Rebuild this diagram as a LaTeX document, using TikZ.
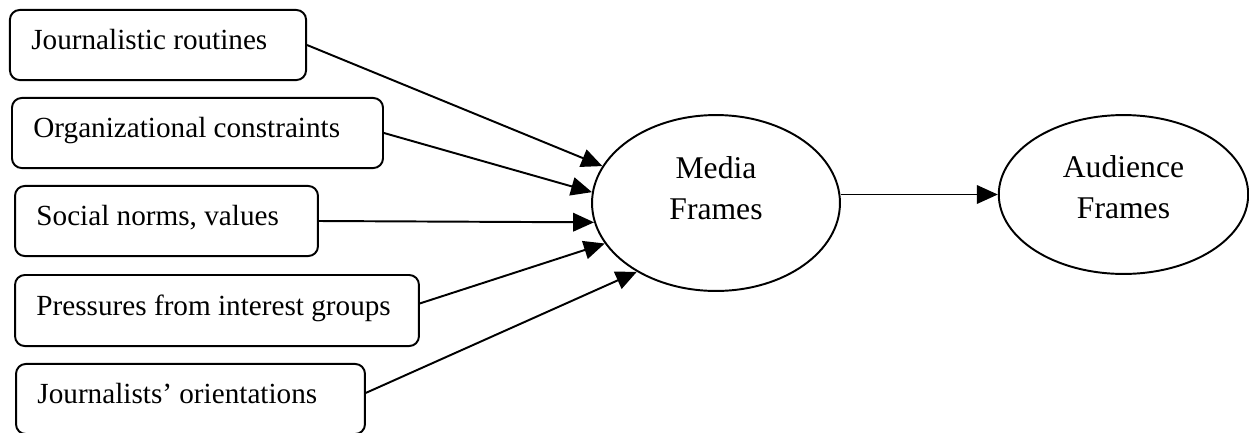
\documentclass[tikz,border=0pt]{standalone}
\usepackage{fontspec}
\setmainfont{Liberation Serif}
\usetikzlibrary{shapes.geometric,arrows.meta}
\tikzset{
  srcbox/.style={draw, rounded corners=4pt, line width=0.8pt, minimum height=28.8pt, inner sep=0pt},
  srctext/.style={anchor=west, xshift=9pt, inner sep=0pt, text height=0.7em, text depth=0.3em, font=\fontsize{12}{14}\selectfont},
  frame/.style={draw, ellipse, line width=0.8pt, inner sep=0pt},
  frametext/.style={align=center, inner sep=0pt, font=\fontsize{13}{16.9}\selectfont},
  arr/.style={-{Triangle[length=8.6pt,width=7.6pt]}, line width=0.8pt}
}
\begin{document}
\begin{tikzpicture}[x=0.411pt,y=0.411pt,yscale=-1,xscale=1]
\useasboundingbox (0,0) rectangle (1249,432);
% influences on the media
\node [srcbox, minimum width=121.7pt] (jr) at (158,45) {};
\node [srctext] at (jr.west) {Journalistic routines};
\node [srcbox, minimum width=152.5pt] (oc) at (197.5,133) {};
\node [srctext] at (oc.west) {Organizational constraints};
\node [srcbox, minimum width=124.5pt] (sn) at (166.5,221) {};
\node [srctext] at (sn.west) {Social norms, values};
\node [srcbox, minimum width=166pt, minimum height=29.2pt] (pi) at (217,310.5) {};
\node [srctext] at (pi.west) {Pressures from interest groups};
\node [srcbox, minimum width=143.4pt] (jo) at (190.5,399) {};
\node [srctext] at (jo.west) {Journalists’ orientations};
% frames
\node [frame, minimum width=101.9pt, minimum height=72.3pt,
  label={[frametext, yshift=6pt]center:Media\\Frames}] (media) at (716,203) {};
\node [frame, minimum width=102.5pt, minimum height=65.3pt,
  label={[frametext, yshift=2.9pt]center:Audience\\Frames}] (aud) at (1123.5,194.5) {};
% arrows
\draw [arr] (jr.east) -- (media.162.8);
\draw [arr] (oc.east) -- (media.175.8);
\draw [arr] (sn.east) -- (media.189);
\draw [arr] (pi.2) -- (media.200.6);
\draw [arr] (jo.2.3) -- (media.221.9);
\draw [arr] (media.east |- aud.west) -- (aud.west);
\end{tikzpicture}
\end{document}
